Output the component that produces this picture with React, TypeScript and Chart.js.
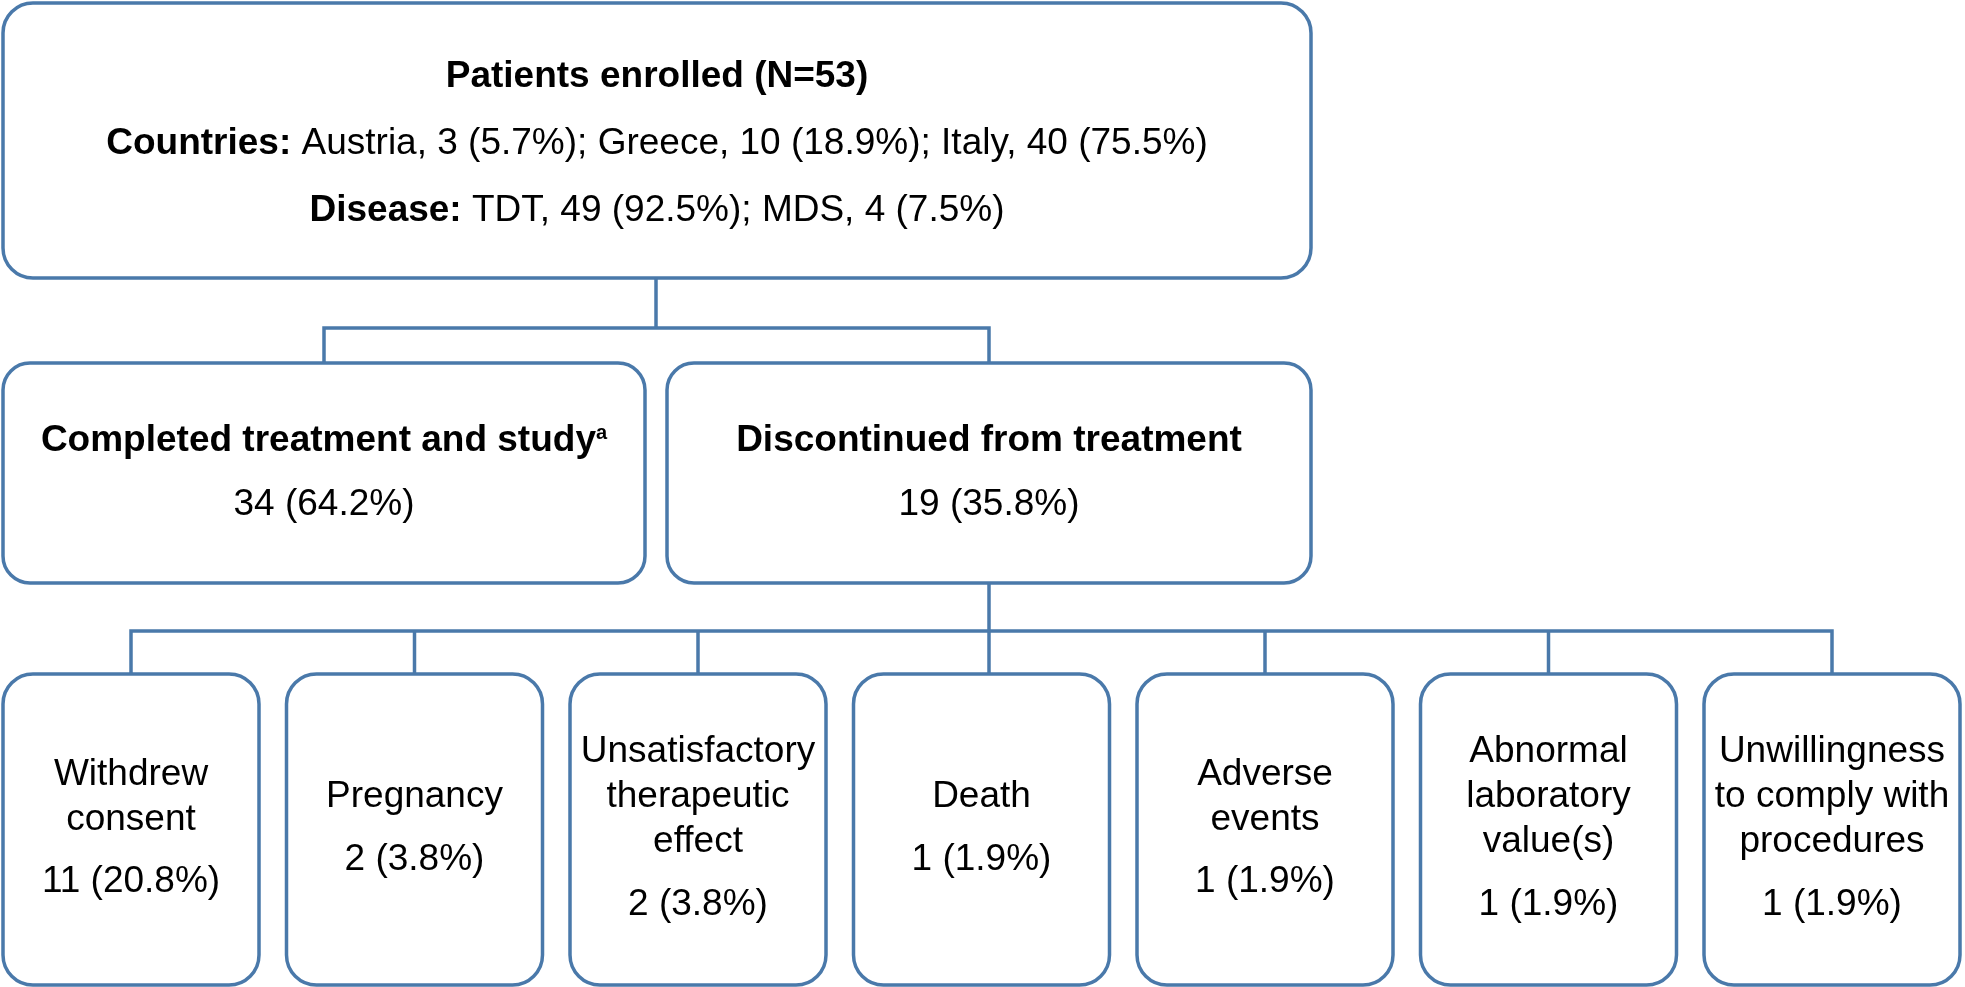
import React, { useEffect, useRef } from "react";
import { Chart, registerables } from "chart.js";

Chart.register(...registerables);

// ---------- data ----------
const enrolledTotal = 53;
const countryNames = ["Austria", "Greece", "Italy"];
const countryCounts = [3, 10, 40];
const diseaseNames = ["TDT", "MDS"];
const diseaseCounts = [49, 4];
const outcomeLabels = ["Completed treatment and study", "Discontinued from treatment"];
const outcomeFootnotes = ["a", ""];
const outcomeCounts = [34, 19];
const reasonLabels = [
  ["Withdrew", "consent"],
  ["Pregnancy"],
  ["Unsatisfactory", "therapeutic", "effect"],
  ["Death"],
  ["Adverse", "events"],
  ["Abnormal", "laboratory", "value(s)"],
  ["Unwillingness", "to comply with", "procedures"],
];
const reasonCounts = [11, 2, 2, 1, 1, 1, 1];

// ---------- layout (frame coordinates, mapped through the chart scales) ----------
const W = 1965;
const H = 987;
const topBox = { x0: 3, x1: 1311, y0: 3, y1: 278 };
const topBaselines = [87, 154, 221];
const row2 = { y0: 363, y1: 583, boxes: [[3, 645], [667, 1311]], baselines: [451, 515] };
const row3 = { y0: 674, y1: 985, left: 3, width: 256, pitch: 283.5 };
const bus1Y = 328;
const bus2Y = 631;
const trunkX = 989;
const lineColor = "#4A79AA";
const lineWidth = 3.5;
const radius = 30;
const FONT = '"Liberation Sans", Arial, Helvetica, sans-serif';
const FS = 37;

const pct = (n: number) => `${n} (${((n / enrolledTotal) * 100).toFixed(1)}%)`;

type Seg = { text: string; bold?: boolean; sup?: boolean };

function drawSegs(ctx: CanvasRenderingContext2D, segs: Seg[], cx: number, baseline: number, fs: number) {
  const fontOf = (s: Seg) =>
    `${s.bold ? "bold " : ""}${s.sup ? Math.round(fs * 0.55) : fs}px ${FONT}`;
  let total = 0;
  const widths = segs.map((s) => {
    ctx.font = fontOf(s);
    const w = ctx.measureText(s.text).width;
    total += w;
    return w;
  });
  let x = cx - total / 2;
  ctx.textAlign = "left";
  ctx.textBaseline = "alphabetic";
  ctx.fillStyle = "#000";
  segs.forEach((s, i) => {
    ctx.font = fontOf(s);
    ctx.fillText(s.text, x, s.sup ? baseline - fs * 0.32 : baseline);
    x += widths[i];
  });
}

function roundRect(ctx: CanvasRenderingContext2D, x0: number, y0: number, x1: number, y1: number, r: number) {
  ctx.beginPath();
  ctx.moveTo(x0 + r, y0);
  ctx.lineTo(x1 - r, y0);
  ctx.arcTo(x1, y0, x1, y0 + r, r);
  ctx.lineTo(x1, y1 - r);
  ctx.arcTo(x1, y1, x1 - r, y1, r);
  ctx.lineTo(x0 + r, y1);
  ctx.arcTo(x0, y1, x0, y1 - r, r);
  ctx.lineTo(x0, y0 + r);
  ctx.arcTo(x0, y0, x0 + r, y0, r);
  ctx.closePath();
  ctx.stroke();
}

const flowPlugin = {
  id: "flow",
  afterDraw(chart: any) {
    const ctx: CanvasRenderingContext2D = chart.ctx;
    const xs = chart.scales.x;
    const ys = chart.scales.y;
    const px = (v: number) => xs.getPixelForValue(v);
    const py = (v: number) => ys.getPixelForValue(v);
    ctx.save();
    ctx.strokeStyle = lineColor;
    ctx.lineWidth = lineWidth;
    ctx.lineJoin = "miter";

    const line = (pts: number[][]) => {
      ctx.beginPath();
      pts.forEach(([x, y], i) => (i ? ctx.lineTo(px(x), py(y)) : ctx.moveTo(px(x), py(y))));
      ctx.stroke();
    };

    // top box
    roundRect(ctx, px(topBox.x0), py(topBox.y0), px(topBox.x1), py(topBox.y1), radius);
    const topCx = (topBox.x0 + topBox.x1) / 2;
    drawSegs(ctx, [{ text: `Patients enrolled (N=${enrolledTotal})`, bold: true }], px(topCx), py(topBaselines[0]), FS);
    drawSegs(
      ctx,
      [
        { text: "Countries: ", bold: true },
        { text: countryNames.map((c, i) => `${c}, ${pct(countryCounts[i])}`).join("; ") },
      ],
      px(topCx),
      py(topBaselines[1]),
      FS
    );
    drawSegs(
      ctx,
      [
        { text: "Disease: ", bold: true },
        { text: diseaseNames.map((c, i) => `${c}, ${pct(diseaseCounts[i])}`).join("; ") },
      ],
      px(topCx),
      py(topBaselines[2]),
      FS
    );

    // connectors top -> row2
    const row2Centers = row2.boxes.map(([a, b]) => (a + b) / 2);
    line([[topCx - 1, topBox.y1], [topCx - 1, bus1Y]]);
    line([[row2Centers[0], row2.y0], [row2Centers[0], bus1Y], [row2Centers[1] - 0, bus1Y], [row2Centers[1], row2.y0]]);

    // row2 boxes
    row2.boxes.forEach(([a, b], i) => {
      roundRect(ctx, px(a), py(row2.y0), px(b), py(row2.y1), radius - 3);
      const segs: Seg[] = [{ text: outcomeLabels[i], bold: true }];
      if (outcomeFootnotes[i]) segs.push({ text: outcomeFootnotes[i], bold: true, sup: true });
      drawSegs(ctx, segs, px(row2Centers[i]), py(row2.baselines[0]), FS);
      drawSegs(ctx, [{ text: pct(outcomeCounts[i]) }], px(row2Centers[i]), py(row2.baselines[1]), FS);
    });

    // row3
    const centers = reasonLabels.map((_, i) => row3.left + i * row3.pitch + row3.width / 2);
    const mid = Math.floor(reasonLabels.length / 2);
    line([[trunkX, row2.y1], [trunkX, row3.y0]]);
    line([[centers[0], row3.y0], [centers[0], bus2Y], [centers[centers.length - 1], bus2Y], [centers[centers.length - 1], row3.y0]]);
    centers.forEach((c, i) => {
      if (i !== mid && i !== 0 && i !== centers.length - 1) line([[c, bus2Y], [c, row3.y0]]);
    });
    reasonLabels.forEach((lbl, i) => {
      const x0 = row3.left + i * row3.pitch;
      roundRect(ctx, px(x0), py(row3.y0), px(x0 + row3.width), py(row3.y1), radius);
      const n = lbl.length;
      const first = 807 - 22.5 * (n - 1);
      lbl.forEach((t, k) => drawSegs(ctx, [{ text: t }], px(centers[i]), py(first + 45 * k), FS));
      drawSegs(ctx, [{ text: pct(reasonCounts[i]) }], px(centers[i]), py(first + 45 * (n - 1) + 62.5), FS);
    });

    ctx.restore();
  },
};

export default function App() {
  const ref = useRef<HTMLCanvasElement | null>(null);
  useEffect(() => {
    document.body.style.margin = "0";
    if (!ref.current) return;
    const chart = new Chart(ref.current, {
      type: "scatter",
      data: { datasets: [{ data: [], pointRadius: 0 }] },
      options: {
        animation: false,
        responsive: false,
        events: [],
        layout: { padding: 0 },
        plugins: { legend: { display: false }, tooltip: { enabled: false } },
        scales: {
          x: { type: "linear", min: 0, max: W, display: false },
          y: { type: "linear", min: 0, max: H, reverse: true, display: false },
        },
      },
      plugins: [flowPlugin],
    });
    return () => chart.destroy();
  }, []);
  return (
    <div style={{ position: "fixed", left: 0, top: 0, width: W, height: H, background: "#fff" }}>
      <canvas ref={ref} width={W} height={H} style={{ display: "block" }} />
    </div>
  );
}
